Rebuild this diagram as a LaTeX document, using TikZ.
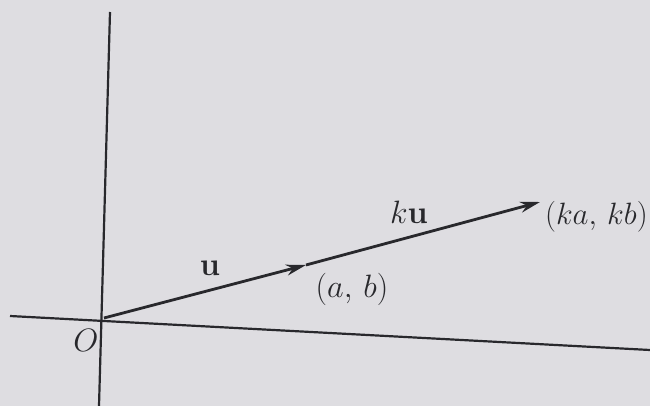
\documentclass[tikz,border=0pt]{standalone}
\usepackage{graphicx}
\usetikzlibrary{arrows.meta}
\definecolor{paper}{RGB}{222,221,225}
\definecolor{ink}{RGB}{40,40,44}
\newcommand{\biglab}[1]{\scalebox{1.3}{#1}}
\begin{document}
\begin{tikzpicture}[x=1pt,y=-1pt,
  axis/.style={ink,line width=2.2pt},
  vec/.style={ink,line width=2.8pt,-{Stealth[length=20pt,width=11pt]}},
  lab/.style={ink,font=\fontsize{24.88}{30}\selectfont,inner sep=0pt}]
\fill[paper] (0,0) rectangle (650,406);
\useasboundingbox (0,0) rectangle (650,406);
% axes
\coordinate (yt) at (110,12);
\coordinate (yb) at (99,406);
\coordinate (xl) at (10,316);
\coordinate (xr) at (650,350);
\draw[axis] (yt) -- (yb);
\draw[axis] (xl) -- (xr);
% vectors
\coordinate (O) at (104,318);
\coordinate (A) at (306,265);
\coordinate (B) at (540,202);
\draw[vec] (O) -- (A);
\draw[vec] (A) -- (B);
% labels
\node[lab] (lo) at (86,340) {\biglab{$O$}};
\node[lab] (lu) at (210,268) {\biglab{$\mathbf{u}$}};
\node[lab] (lku) at (409,212) {\biglab{$k\mathbf{u}$}};
\node[lab] (lab1) at (352,289) {\biglab{$(a,\,b)$}};
\node[lab,anchor=east] (lab2) at (648,217) {\scalebox{1.24}{$(ka,\,kb)$}};
\end{tikzpicture}
\end{document}
